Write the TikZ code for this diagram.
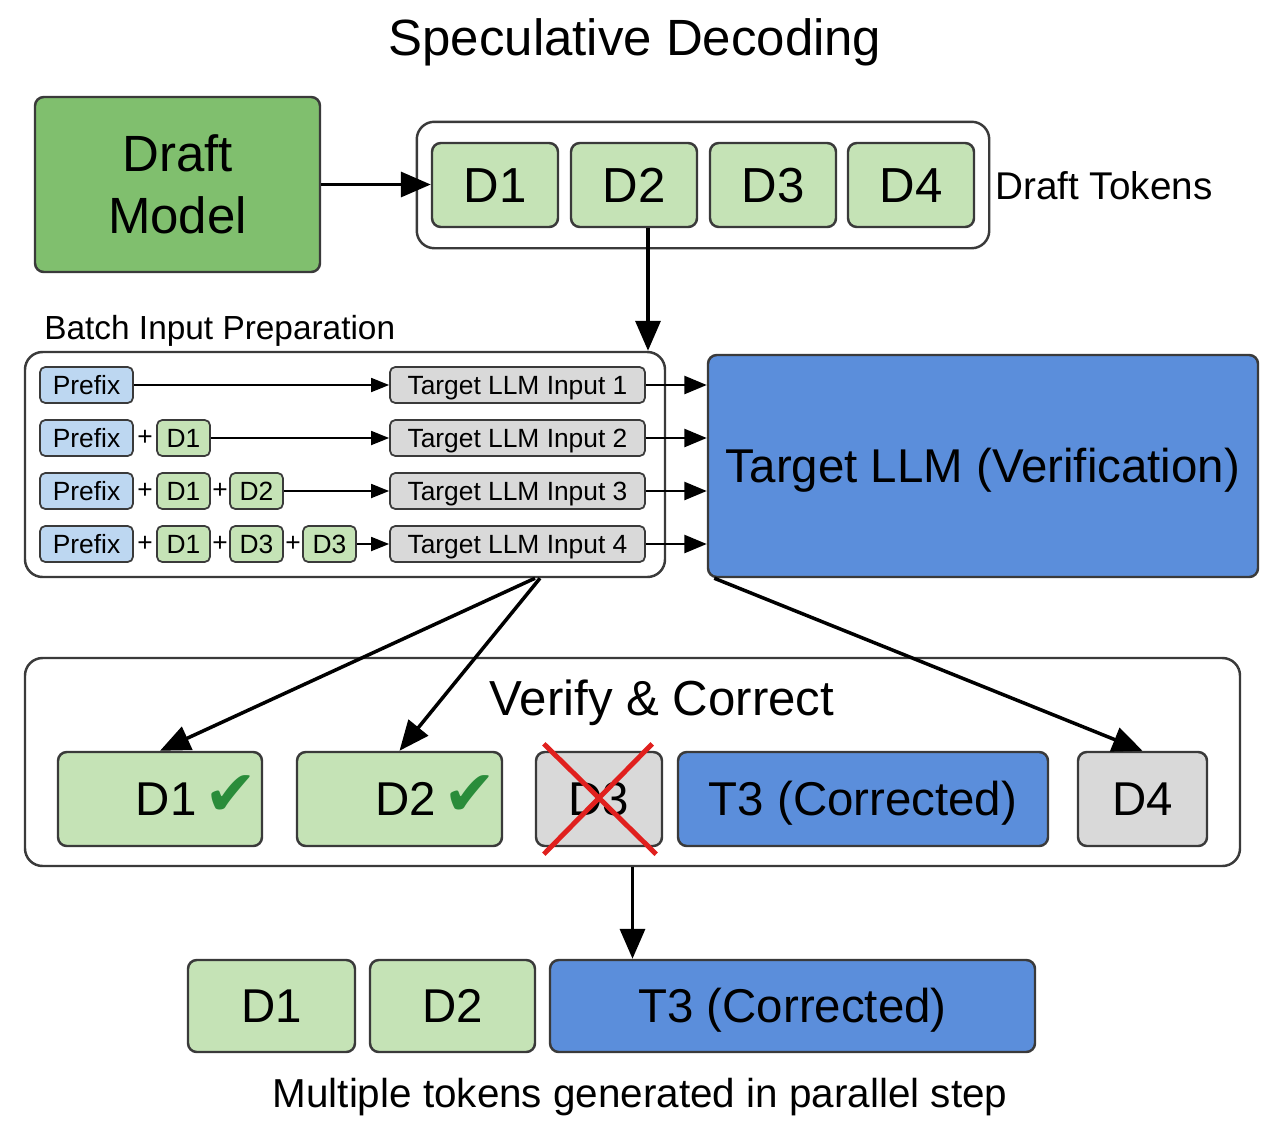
\documentclass[tikz,border=0pt]{standalone}
\usepackage{fontspec}
\setmainfont{Liberation Sans}
\newfontfamily\symfont{DejaVu Sans}
\usetikzlibrary{arrows.meta, positioning, fit, calc}
\definecolor{draftgreen}{HTML}{80BF6E}
\definecolor{tokgreen}{HTML}{C5E3B6}
\definecolor{llmblue}{HTML}{5B8EDB}
\definecolor{prefblue}{HTML}{BDD7F1}
\definecolor{inpgrey}{HTML}{D9D9D9}
\definecolor{edgegrey}{HTML}{3A3A3A}
\definecolor{checkgreen}{HTML}{2A8C3A}
\definecolor{crossred}{HTML}{E0201E}

\begin{document}
\begin{tikzpicture}[
  box/.style={rectangle, draw=edgegrey, line width=1.4pt, rounded corners=5pt, inner sep=0pt, text depth=0pt},
  tok/.style={box, fill=tokgreen, minimum height=1.68cm, text height=20pt, font=\fontsize{28}{32}\selectfont},
  vrow/.style={box, minimum height=1.88cm, text height=19.3pt, font=\fontsize{27}{32}\selectfont},
  chip/.style={rectangle, draw=edgegrey, line width=1pt, rounded corners=3pt, inner sep=0pt, minimum height=0.72cm,
               text height=10.7pt, text depth=0pt, font=\fontsize{15}{17}\selectfont},
  group/.style={rectangle, draw=edgegrey, line width=1.4pt, rounded corners=10pt},
  plus/.style={inner sep=0pt, font=\fontsize{15}{17}\selectfont},
  arr/.style={-{Triangle[length=0.6cm, width=0.5cm]}, line width=2pt},
  rowarr/.style={-{Triangle[length=0.36cm, width=0.28cm]}, line width=1pt},
  feed/.style={-{Triangle[length=0.45cm, width=0.36cm]}, line width=1.5pt}
]
  \useasboundingbox (0,0) rectangle (25.6,-22.88);

  \node[font=\fontsize{29}{34}\selectfont] (title) at (12.7,-0.84) {Speculative Decoding};

  % drafting
  \node[rectangle, draw=edgegrey, line width=1.4pt, rounded corners=5pt, fill=draftgreen,
        minimum width=5.7cm, minimum height=3.5cm, align=center,
        font=\fontsize{29}{35}\selectfont] (dm) at (3.55,-3.69) {Draft\\Model};
  \node[tok, minimum width=2.52cm] (d1) at (9.9,-3.7) {D1};
  \node[tok, minimum width=2.52cm] (d2) at (12.68,-3.7) {D2};
  \node[tok, minimum width=2.52cm] (d3) at (15.46,-3.7) {D3};
  \node[tok, minimum width=2.52cm] (d4) at (18.22,-3.7) {D4};
  \node[group, fit=(d1)(d4), inner xsep=0.28cm, inner ysep=0.4cm] (dt) {};
  \node[anchor=west, inner sep=0pt, font=\fontsize{22}{26}\selectfont] (dtl) at (19.9,-3.72) {Draft Tokens};
  \draw[arr] (dm.east) -- (dm.east -| d1.west);

  % batch input preparation
  \node[group, minimum width=12.8cm, minimum height=4.5cm] (bip) at (6.9,-9.29) {};
  \node[anchor=west, inner sep=0pt, font=\fontsize{19}{22}\selectfont] (bipl) at (0.88,-6.62) {Batch Input Preparation};
  \draw[arr] ([xshift=0.28cm]d2.south) -- ([xshift=0.28cm]d2.south |- bip.north);

  \node[chip, fill=prefblue, minimum width=1.86cm] (p1) at (1.73,-7.7) {Prefix};
  \node[chip, fill=inpgrey, minimum width=5.1cm] (in1) at (10.35,-7.7) {Target LLM Input 1};

  \node[chip, fill=prefblue, minimum width=1.86cm] (p2) at (1.73,-8.76) {Prefix};
  \node[plus] (pl2) at (2.9,-8.76) {+};
  \node[chip, fill=tokgreen, minimum width=1.06cm] (r2a) at (3.67,-8.76) {D1};
  \node[chip, fill=inpgrey, minimum width=5.1cm] (in2) at (10.35,-8.76) {Target LLM Input 2};

  \node[chip, fill=prefblue, minimum width=1.86cm] (p3) at (1.73,-9.82) {Prefix};
  \node[plus] (pl3a) at (2.9,-9.82) {+};
  \node[chip, fill=tokgreen, minimum width=1.06cm] (r3a) at (3.67,-9.82) {D1};
  \node[plus] (pl3b) at (4.4,-9.82) {+};
  \node[chip, fill=tokgreen, minimum width=1.06cm] (r3b) at (5.13,-9.82) {D2};
  \node[chip, fill=inpgrey, minimum width=5.1cm] (in3) at (10.35,-9.82) {Target LLM Input 3};

  \node[chip, fill=prefblue, minimum width=1.86cm] (p4) at (1.73,-10.88) {Prefix};
  \node[plus] (pl4a) at (2.9,-10.88) {+};
  \node[chip, fill=tokgreen, minimum width=1.06cm] (r4a) at (3.67,-10.88) {D1};
  \node[plus] (pl4b) at (4.4,-10.88) {+};
  \node[chip, fill=tokgreen, minimum width=1.06cm] (r4b) at (5.13,-10.88) {D3};
  \node[plus] (pl4c) at (5.86,-10.88) {+};
  \node[chip, fill=tokgreen, minimum width=1.06cm] (r4c) at (6.59,-10.88) {D3};
  \node[chip, fill=inpgrey, minimum width=5.1cm] (in4) at (10.35,-10.88) {Target LLM Input 4};

  \draw[rowarr] (p1) -- (in1);
  \draw[rowarr] (r2a) -- (in2);
  \draw[rowarr] (r3b) -- (in3);
  \draw[rowarr] (r4c) -- (in4);

  % target model
  \node[box, fill=llmblue, minimum width=11cm, minimum height=4.44cm, text height=19.3pt,
        font=\fontsize{27}{32}\selectfont] (tl) at (19.66,-9.32) {Target LLM (Verification)};
  \draw[feed] (in1.east) -- (in1.east -| tl.west);
  \draw[feed] (in2.east) -- (in2.east -| tl.west);
  \draw[feed] (in3.east) -- (in3.east -| tl.west);
  \draw[feed] (in4.east) -- (in4.east -| tl.west);

  % verify and correct
  \node[group, minimum width=24.3cm, minimum height=4.16cm] (vc) at (12.65,-15.24) {};
  \node[font=\fontsize{28}{32}\selectfont] (vcl) at (13.24,-14.06) {Verify \& Correct};
  \node[vrow, fill=tokgreen, minimum width=4.08cm, text width=3.9cm, align=right] (v1) at (3.2,-15.98)
    {D1\,{\symfont\fontsize{36}{36}\selectfont\color{checkgreen}✔}};
  \node[vrow, fill=tokgreen, minimum width=4.1cm, text width=3.9cm, align=right] (v2) at (7.99,-15.98)
    {D2\,{\symfont\fontsize{36}{36}\selectfont\color{checkgreen}✔}};
  \node[vrow, fill=inpgrey, minimum width=2.52cm] (v3) at (11.98,-15.98) {D3};
  \node[vrow, fill=llmblue, minimum width=7.4cm] (v4) at (17.26,-15.98) {T3 (Corrected)};
  \node[vrow, fill=inpgrey, minimum width=2.58cm] (v5) at (22.85,-15.98) {D4};
  \draw[crossred, line width=2.8pt] ([xshift=0.18cm, yshift=0.14cm]v3.north west) -- ([xshift=-0.14cm, yshift=-0.14cm]v3.south east);
  \draw[crossred, line width=2.8pt] ([xshift=-0.22cm, yshift=0.14cm]v3.north east) -- ([xshift=0.18cm, yshift=-0.14cm]v3.south west);

  \draw[arr] ([xshift=3.8cm]bip.south) -- (v1.north);
  \draw[arr] ([xshift=3.9cm]bip.south) -- (v2.north);
  \draw[arr] ([xshift=0.15cm]tl.south west) -- (v5.north);

  % result
  \node[vrow, fill=tokgreen, minimum width=3.34cm, minimum height=1.84cm] (o1) at (5.43,-20.12) {D1};
  \node[vrow, fill=tokgreen, minimum width=3.3cm, minimum height=1.84cm] (o2) at (9.05,-20.12) {D2};
  \node[vrow, fill=llmblue, minimum width=9.7cm, minimum height=1.84cm] (o3) at (15.85,-20.12) {T3 (Corrected)};
  \draw[arr] (vc.south) -- (vc.south |- o3.north);
  \node[font=\fontsize{23}{27}\selectfont] (cap) at (12.8,-21.94) {Multiple tokens generated in parallel step};
\end{tikzpicture}
\end{document}
